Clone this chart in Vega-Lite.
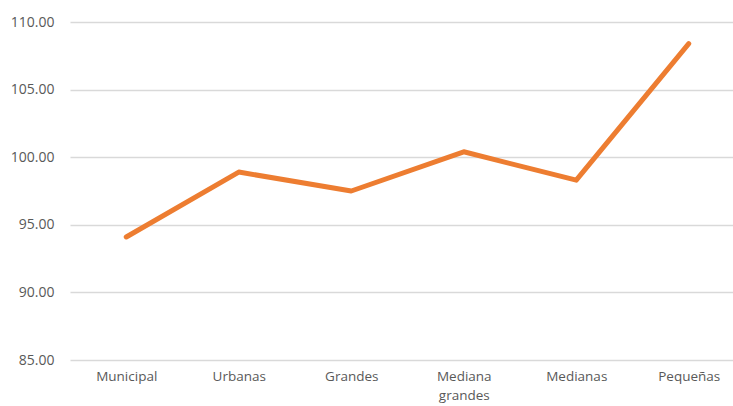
{
  "$schema": "https://vega.github.io/schema/vega-lite/v6.json",
  "autosize": "none",
  "width": 675,
  "height": 338,
  "padding": {"left": 70, "top": 22, "right": 0, "bottom": 46},
  "background": "white",
  "config": {"view": {"stroke": null}, "font": "Open Sans"},
  "data": {"values": [
    {"cat": "Municipal", "v": 94.1},
    {"cat": "Urbanas", "v": 98.9},
    {"cat": "Grandes", "v": 97.5},
    {"cat": "Mediana grandes", "v": 100.4},
    {"cat": "Medianas", "v": 98.3},
    {"cat": "Pequeñas", "v": 108.4}
  ]},
  "mark": {"type": "line", "color": "#ED7D31", "strokeWidth": 5, "strokeCap": "round", "strokeJoin": "round"},
  "encoding": {
    "x": {"field": "cat", "type": "nominal", "sort": null, "title": null,
      "scale": {"paddingInner": 0, "paddingOuter": 0.5},
      "axis": {"labelAngle": 0, "domain": false, "ticks": false, "labelPadding": 9, "labelFontSize": 13.5, "labelColor": "#595959", "labelFont": "Open Sans",
        "labelExpr": "datum.label == 'Mediana grandes' ? ['Mediana', 'grandes'] : datum.label", "labelLineHeight": 19}},
    "y": {"field": "v", "type": "quantitative", "title": null,
      "scale": {"domain": [85, 110], "nice": false, "zero": false},
      "axis": {"values": [85, 90, 95, 100, 105, 110], "format": ".2f", "domain": false, "ticks": false, "labelPadding": 16, "labelFontSize": 14, "labelColor": "#595959", "labelFont": "Open Sans", "gridColor": "#D9D9D9", "gridWidth": 1.5}}
  }
}
